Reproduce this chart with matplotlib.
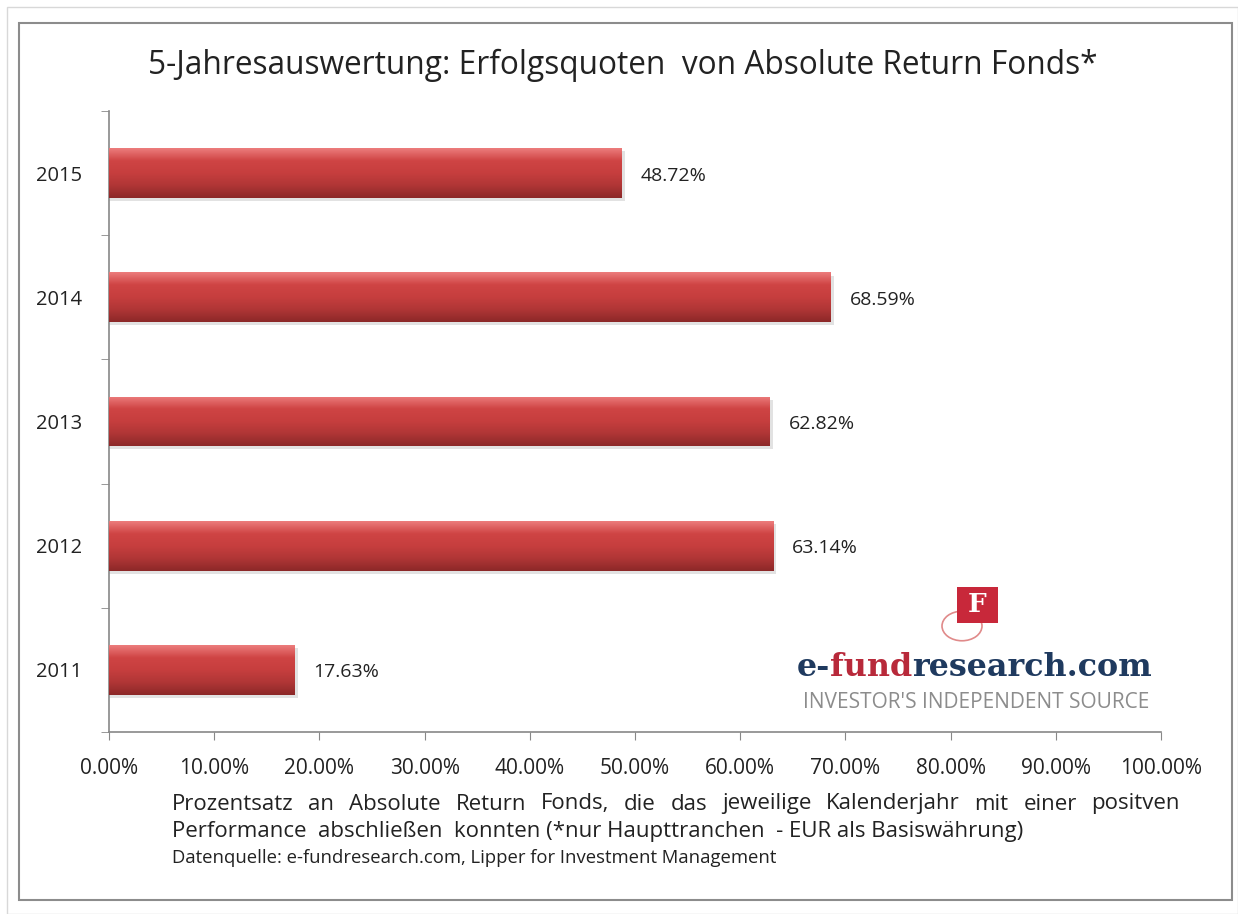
import matplotlib.pyplot as plt
import numpy as np
from matplotlib.patches import Rectangle, Circle
from matplotlib.colors import LinearSegmentedColormap

years = ['2011', '2012', '2013', '2014', '2015']
quoten = [17.63, 63.14, 62.82, 68.59, 48.72]
value_labels = ['17.63%', '63.14%', '62.82%', '68.59%', '48.72%']
x_ticks = [0, 10, 20, 30, 40, 50, 60, 70, 80, 90, 100]
x_ticklabels = ['%.2f%%' % t for t in x_ticks]

plt.rcParams['font.family'] = ['Open Sans', 'DejaVu Sans']

fig = plt.figure(figsize=(12.38, 9.14), dpi=100)
W, H = 1238, 914

# frames
fig.add_artist(Rectangle((7 / W, 0.0), (W - 7) / W, (H - 7) / H, transform=fig.transFigure,
                         fill=False, edgecolor='#d8d8d8', lw=1))
fig.add_artist(Rectangle((19 / W, 1 - 900 / H), (1232 - 19) / W, (900 - 23) / H,
                         transform=fig.transFigure, fill=False, edgecolor='#8c8c8c', lw=1.5))

ax = fig.add_axes([109 / W, 1 - 732 / H, (1161 - 109) / W, (732 - 111) / H])

y = np.arange(len(years))
bars = ax.barh(y, quoten, height=0.4, color='#c83c3c', edgecolor='none', zorder=2)

# glossy gradient on each bar
cmap = LinearSegmentedColormap.from_list('glanz', ['#8c2828', '#b03636', '#c63e3e', '#cf4444', '#ec7c7c'])
grad = np.linspace(0, 1, 100).reshape(-1, 1)
for b in bars:
    x0, y0 = b.get_x(), b.get_y()
    w, h = b.get_width(), b.get_height()
    # soft shadow
    ax.add_patch(Rectangle((x0, y0 - 0.025), w + 0.3, h, color='#e2e2e2', zorder=1, lw=0))
    im = ax.imshow(grad, extent=(x0, x0 + w, y0, y0 + h), origin='lower', aspect='auto',
                   cmap=cmap, zorder=3, interpolation='bicubic')
    im.set_clip_path(b)

for yi, v, lab in zip(y, quoten, value_labels):
    ax.text(v + 1.8, yi - 0.02, lab, va='center', ha='left', fontsize=14, color='#222222')

ax.set_xlim(0, 100)
ax.set_ylim(-0.5, len(years) - 0.5)
ax.set_xticks(x_ticks)
ax.set_xticklabels(x_ticklabels, fontsize=15, color='#222222')
ax.set_yticks(y)
ax.set_yticklabels(years, fontsize=14.5, color='#222222')
ax.set_yticks(np.arange(-0.5, len(years), 1), minor=True)
ax.tick_params(axis='y', which='major', length=0, pad=19)
ax.tick_params(axis='y', which='minor', length=6, color='#888888', direction='out')
ax.tick_params(axis='x', length=6, color='#888888', direction='out', pad=13)
for s in ['top', 'right']:
    ax.spines[s].set_visible(False)
for s in ['left', 'bottom']:
    ax.spines[s].set_color('#888888')
    ax.spines[s].set_linewidth(1.2)

fig.text(623 / W, 1 - 65 / H, '5-Jahresauswertung: Erfolgsquoten  von Absolute Return Fonds*',
         ha='center', va='center', fontsize=22.8, color='#222222')

fig.canvas.draw()
r = fig.canvas.get_renderer()

# first footnote line is justified between x=172 and x=1180
line1 = 'Prozentsatz an Absolute Return Fonds, die das jeweilige Kalenderjahr mit einer positven'.split()
widths = []
for wd in line1:
    t = fig.text(0, 0, wd, fontsize=16)
    widths.append(t.get_window_extent(r).width)
    t.remove()
gap = (1180 - 172 - sum(widths)) / (len(line1) - 1)
xpos = 172
for wd, wdt in zip(line1, widths):
    fig.text(xpos / W, 1 - 804 / H, wd, ha='left', va='center', fontsize=16, color='#222222')
    xpos += wdt + gap

fig.text(172 / W, 1 - 831 / H,
         'Performance  abschließen  konnten (*nur Haupttranchen  - EUR als Basiswährung)',
         ha='left', va='center', fontsize=16, color='#222222')
fig.text(172 / W, 1 - 858 / H,
         'Datenquelle: e-fundresearch.com, Lipper for Investment Management',
         ha='left', va='center', fontsize=13.3, color='#222222')

# logo
fig.add_artist(Circle((962 / W, 1 - 626 / H), 20 / W, transform=fig.transFigure,
                      fill=False, edgecolor='#e08a8a', lw=1.2))
fig.add_artist(Rectangle((957 / W, 1 - 623 / H), 41 / W, 36 / H, transform=fig.transFigure,
                         facecolor='#c8283a', edgecolor='none'))
fig.text(977 / W, 1 - 605 / H, 'F', ha='center', va='center', fontsize=19, color='white',
         family='DejaVu Serif', weight='bold')

logo_y = 1 - 667 / H
t1 = fig.text(797 / W, logo_y, 'e-', ha='left', va='center', fontsize=22.9,
              color='#1f3a5f', family='DejaVu Serif', weight='bold')
bb = t1.get_window_extent(r)
t2 = fig.text(bb.x1 / W, logo_y, 'fund', ha='left', va='center', fontsize=22.9,
              color='#b8293a', family='DejaVu Serif', weight='bold')
bb = t2.get_window_extent(r)
fig.text(bb.x1 / W, logo_y, 'research.com', ha='left', va='center', fontsize=22.9,
         color='#1f3a5f', family='DejaVu Serif', weight='bold')
fig.text(976 / W, 1 - 702 / H, "INVESTOR'S INDEPENDENT SOURCE", ha='center', va='center',
         fontsize=15, color='#8c8c8c')

fig.savefig('out.png', dpi=100)
